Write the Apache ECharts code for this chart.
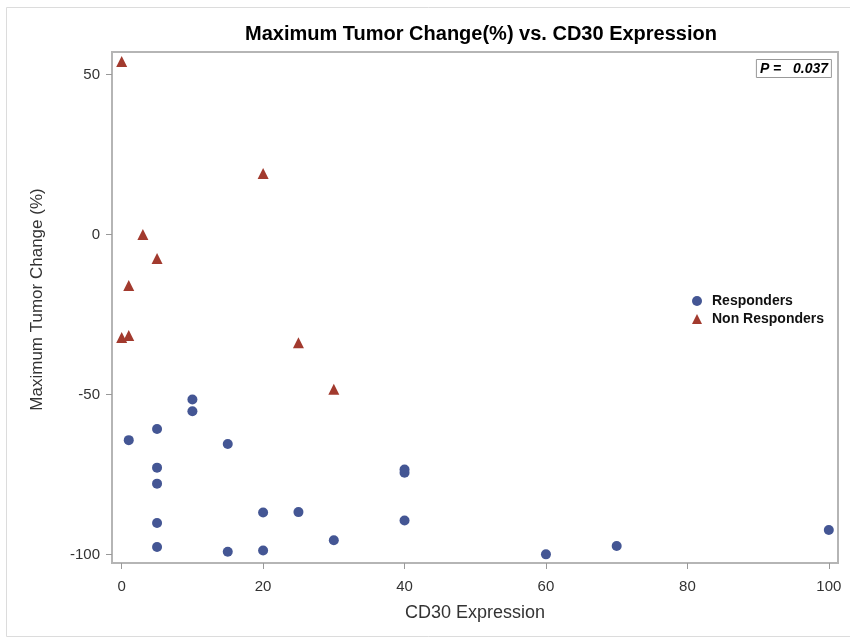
<!DOCTYPE html>
<html>
<head>
<meta charset="utf-8">
<script src="https://cdn.jsdelivr.net/npm/echarts@6/dist/echarts.min.js"></script>
<style>
  html, body { margin: 0; padding: 0; background: #fff; }
  #main { width: 850px; height: 639px; }
</style>
</head>
<body>
<div id="main"></div>
<script>
// CD30 expression (x) and max tumor change % (y)
var responders = [
    [10, -51.6], [10, -55.3], [5, -60.8], [1, -64.3], [15, -65.5],
    [5, -72.9], [5, -77.9], [20, -86.9], [25, -86.8], [5, -90.2],
    [30, -95.6], [5, -97.7], [15, -99.2], [20, -98.8],
    [40, -73.5], [40, -74.5], [40, -89.4], [60, -100], [70, -97.4], [100, -92.4]
];
var nonResponders = [
    [0, 54], [20, 19], [3, 0], [5, -7.5], [1, -16],
    [0, -32.2], [1, -31.6], [25, -33.9], [30, -48.4]
];
var xTicks = [0, 20, 40, 60, 80, 100];
var yTicks = [-100, -50, 0, 50];
var pText = 'P =   0.037';

var myChart = echarts.init(document.getElementById('main'));
myChart.setOption({
    animation: false,
    backgroundColor: '#fff',
    textStyle: { fontFamily: 'Liberation Sans, Arial, sans-serif' },
    title: [
        {
            text: 'Maximum Tumor Change(%) vs. CD30 Expression',
            left: 476,
            top: 19,
            textAlign: 'center',
            textStyle: { fontSize: 20, fontWeight: 'bold', color: '#000' }
        },
        {
            text: pText,
            right: 18,
            top: 59,
            padding: [3, 4, 2, 4],
            borderColor: '#999',
            borderWidth: 1,
            textStyle: { fontSize: 14, fontWeight: 'bold', fontStyle: 'italic', color: '#000' }
        }
    ],
    //图例
    legend: {
        orient: 'vertical',
        left: 687,
        top: 289,
        itemWidth: 10,
        itemHeight: 10,
        itemGap: 4,
        textStyle: { fontSize: 14, fontWeight: 'bold', color: '#111', padding: [0, 0, 0, 5] },
        data: [
            { name: 'Responders', icon: 'circle' },
            { name: 'Non Responders', icon: 'triangle' }
        ]
    },
    grid: {
        left: 112,
        right: 12,
        top: 52,
        bottom: 76,
        show: true,
        borderColor: '#b5b5b5',
        borderWidth: 2
    },
    xAxis: {
        type: 'value',
        min: -1.37,
        max: 101.3,
        name: 'CD30 Expression',
        nameLocation: 'middle',
        nameGap: 41,
        nameTextStyle: { fontSize: 18, color: '#333' },
        axisLine: { show: true, onZero: false, lineStyle: { color: '#b5b5b5', width: 2 } },
        axisTick: { show: true, customValues: xTicks, length: 6, lineStyle: { color: '#999' } },
        axisLabel: { customValues: xTicks, fontSize: 15, color: '#333', margin: 16 },
        splitLine: { show: false }
    },
    yAxis: {
        type: 'value',
        min: -102.7,
        max: 57,
        name: 'Maximum Tumor Change (%)',
        nameLocation: 'middle',
        nameGap: 66,
        nameTextStyle: { fontSize: 17, color: '#333', padding: [0, 0, 0, 16] },
        axisLine: { show: true, onZero: false, lineStyle: { color: '#b5b5b5', width: 2 } },
        axisTick: { show: true, customValues: yTicks, length: 6, lineStyle: { color: '#999' } },
        axisLabel: { customValues: yTicks, fontSize: 15, color: '#333', margin: 12 },
        splitLine: { show: false }
    },
    graphic: [
        {
            type: 'rect',
            silent: true,
            shape: { x: 6.5, y: 7.5, width: 860, height: 629 },
            style: { fill: 'none', stroke: '#dcdcdc', lineWidth: 1 }
        }
    ],
    series: [
        {
            name: 'Responders',
            type: 'scatter',
            symbol: 'circle',
            symbolSize: 10,
            itemStyle: { color: '#445694', opacity: 1 },
            data: responders
        },
        {
            name: 'Non Responders',
            type: 'scatter',
            symbol: 'triangle',
            symbolSize: 11,
            itemStyle: { color: '#A23A2E', opacity: 1 },
            data: nonResponders
        }
    ]
});
</script>
</body>
</html>
